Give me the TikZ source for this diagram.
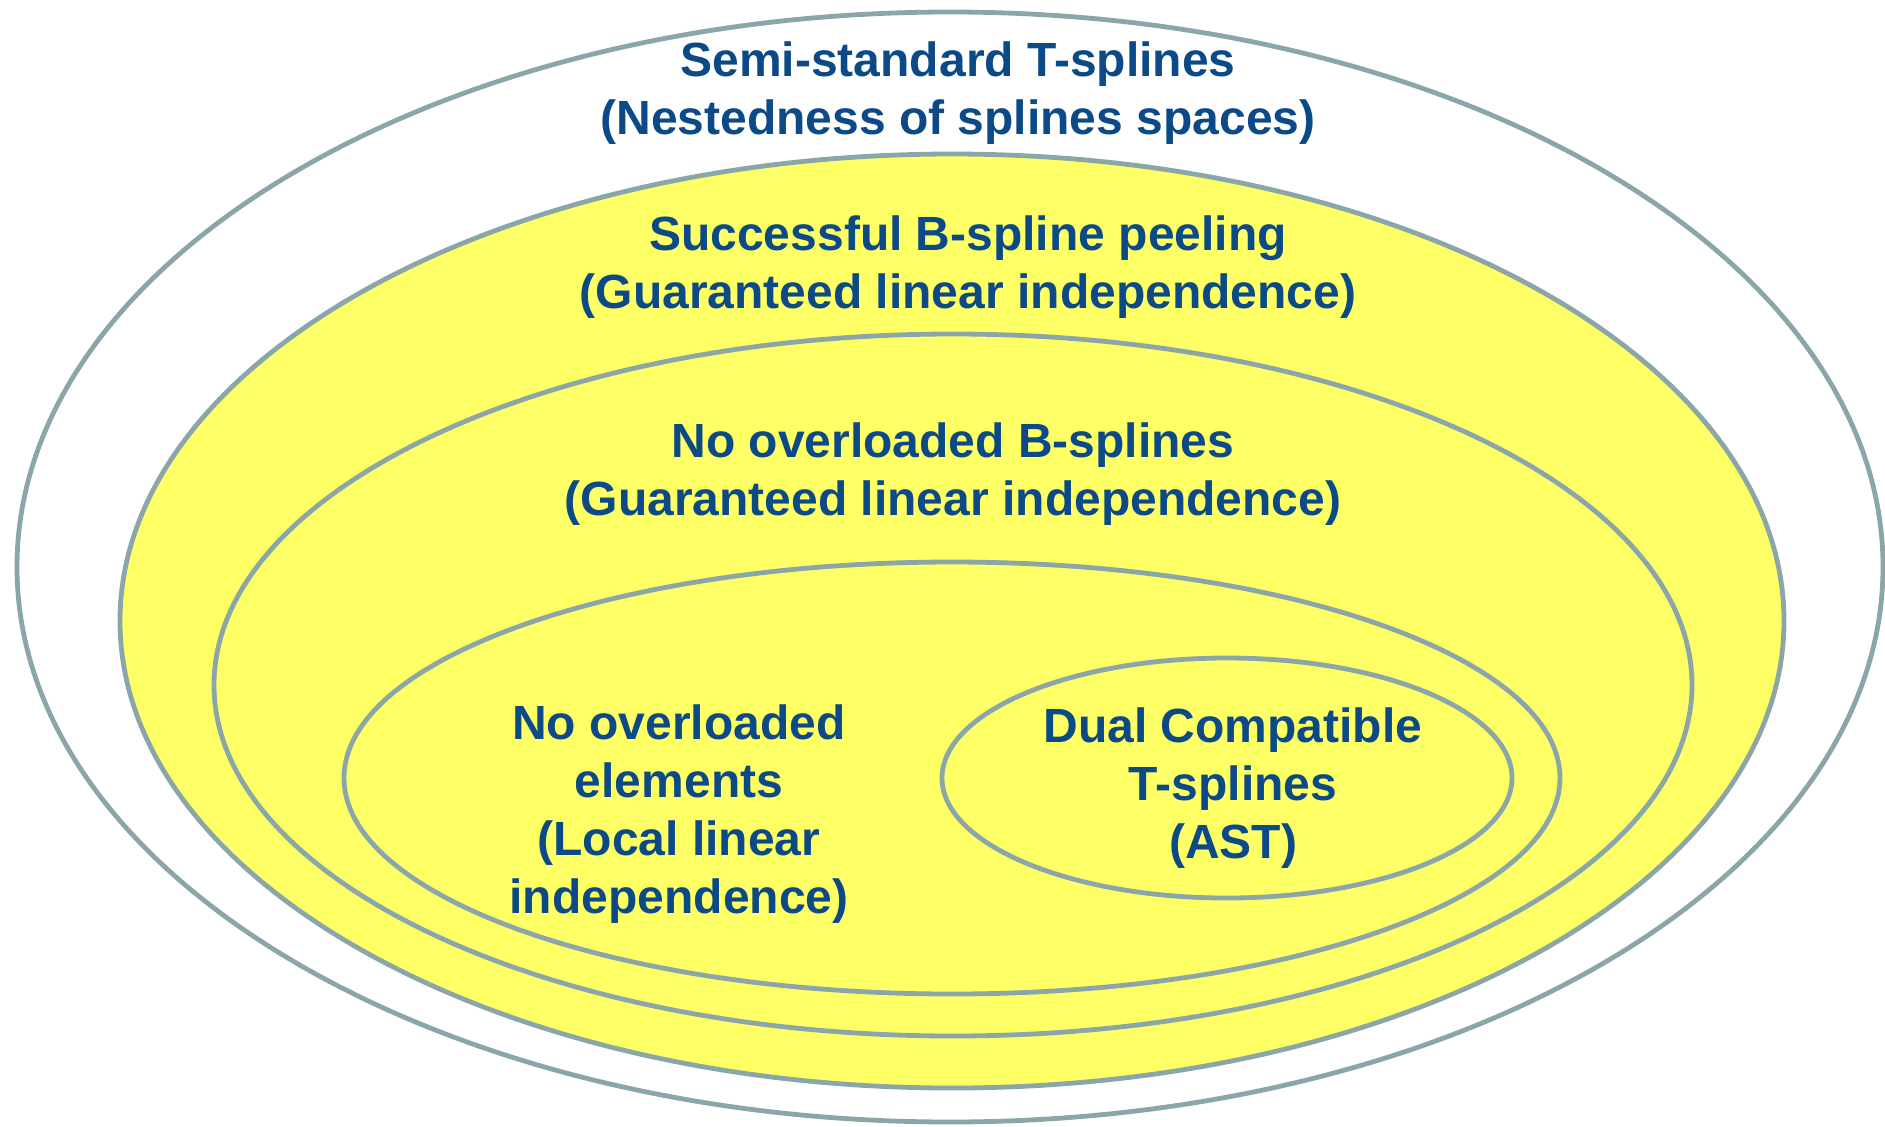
\documentclass[tikz,border=0pt]{standalone}
\usepackage{fontspec}
\setmainfont{Liberation Sans}
\definecolor{rimgray}{HTML}{8AA6A9}
\definecolor{setfill}{HTML}{FFFF66}
\definecolor{labelblue}{HTML}{0B4A86}
\tikzset{
  setrim/.style={draw=rimgray, line width=2.4pt},
  setlabel/.style={text=labelblue, font=\fontsize{24}{29}\selectfont\bfseries,
    align=center, inner sep=0pt}
}
\begin{document}
\begin{tikzpicture}[x=0.5pt, y=-0.5pt]
  \useasboundingbox (0,0) rectangle (1885,1126);
  % nested sets, outermost first
  \draw[setrim, fill=white]   (950,567) ellipse [x radius=933, y radius=555];
  \draw[setrim, fill=setfill] (952,621) ellipse [x radius=832, y radius=467];
  \draw[setrim, fill=setfill] (953,685) ellipse [x radius=739, y radius=351];
  \draw[setrim, fill=setfill] (952,778) ellipse [x radius=608, y radius=216];
  \draw[setrim, fill=setfill] (1227,778) ellipse [x radius=285, y radius=120];
  % labels
  \node[setlabel] (semi) at (958,93)
    {Semi-standard T-splines\\(Nestedness of splines spaces)};
  \node[setlabel] (peel) at (968,267)
    {Successful B-spline peeling\\(Guaranteed linear independence)};
  \node[setlabel] (nobs) at (953,474)
    {No overloaded B-splines\\(Guaranteed linear independence)};
  \node[setlabel] (noel) at (679,814)
    {No overloaded\\elements\\(Local linear\\independence)};
  \node[setlabel] (dual) at (1233,788)
    {Dual Compatible\\T-splines\\(AST)};
\end{tikzpicture}
\end{document}
